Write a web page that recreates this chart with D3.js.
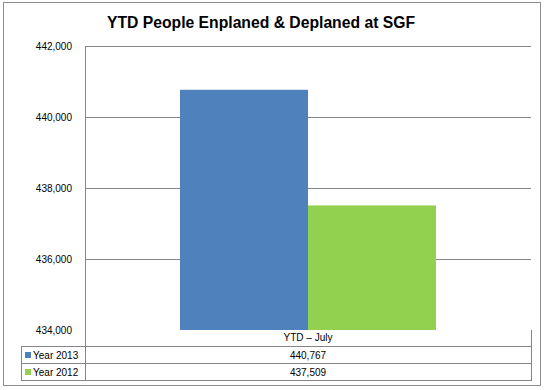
<!DOCTYPE html>
<head>
<meta charset="utf-8">
<title>YTD People Enplaned & Deplaned at SGF</title>
<style>
body { margin: 0; background: #fff; font-family: "Liberation Sans", Arial, sans-serif; }
.axis text { font-size: 10px; fill: #000; }
.tbl text { font-size: 10px; fill: #000; }
</style>
<script src="https://d3js.org/d3.v7.min.js"></script>
</head>
<body>
<script>
// data
var categories = ["YTD \u2013 July"];
var seriesNames = ["Year 2013", "Year 2012"];
var seriesValues = [440767, 437509];
var seriesColors = ["#4F81BD", "#92D050"];
var yTicks = [434000, 436000, 438000, 440000, 442000];

var width = 548, height = 390;
var plot = { left: 85, right: 531, top: 46, bottom: 330 };
var rowH = 17;

var svg = d3.select("body").append("svg")
    .attr("width", width)
    .attr("height", height);

// outer chart border
svg.append("rect")
    .attr("x", 3.5).attr("y", 2.5)
    .attr("width", 537).attr("height", 383)
    .attr("fill", "#fff")
    .attr("stroke", "#8c8c8c");

// title
svg.append("text")
    .attr("x", 261).attr("y", 28)
    .attr("text-anchor", "middle")
    .style("font-size", "16px")
    .style("font-weight", "bold")
    .attr("textLength", 308)
    .attr("lengthAdjust", "spacingAndGlyphs")
    .text("YTD People Enplaned & Deplaned at SGF");

// scales
var yScale = d3.scaleLinear()
    .domain([434000, 442000])
    .range([plot.bottom, plot.top]);

var xScale = d3.scaleBand()
    .domain(categories)
    .range([plot.left, plot.right])
    .paddingInner(0)
    .paddingOuter(0.371);

var xSeries = d3.scaleBand()
    .domain(seriesNames)
    .range([0, xScale.bandwidth()]);

// gridlines (no line at the baseline)
svg.append("g")
    .selectAll("line")
    .data(yTicks.filter(function(d) { return d > 434000; }))
    .enter().append("line")
    .attr("x1", plot.left).attr("x2", plot.right)
    .attr("y1", function(d) { return Math.round(yScale(d)) + 0.5; })
    .attr("y2", function(d) { return Math.round(yScale(d)) + 0.5; })
    .attr("stroke", "#868686");

// y axis labels
var yAxis = d3.axisLeft(yScale)
    .tickValues(yTicks)
    .tickSize(0)
    .tickPadding(13)
    .tickFormat(d3.format(","));

svg.append("g")
    .attr("class", "axis")
    .attr("transform", "translate(" + plot.left + ",0)")
    .call(yAxis)
    .call(function(g) { g.select(".domain").remove(); });

// bars
svg.append("g")
    .selectAll("rect")
    .data(seriesValues)
    .enter().append("rect")
    .attr("x", function(d, i) { return xScale(categories[0]) + xSeries(seriesNames[i]); })
    .attr("width", xSeries.bandwidth())
    .attr("y", function(d) { return yScale(d); })
    .attr("height", function(d) { return yScale(434000) - yScale(d); })
    .attr("fill", function(d, i) { return seriesColors[i]; });

// vertical axis line (runs down through the data table)
var tblTop = plot.bottom + rowH - 1;
var tblBottom = tblTop + rowH * seriesNames.length;
svg.append("line")
    .attr("x1", plot.left + 0.5).attr("x2", plot.left + 0.5)
    .attr("y1", plot.top).attr("y2", tblBottom)
    .attr("stroke", "#868686");

// data table
var tbl = svg.append("g").attr("class", "tbl");

tbl.append("line")
    .attr("x1", plot.right + 0.5).attr("x2", plot.right + 0.5)
    .attr("y1", plot.bottom).attr("y2", tblBottom)
    .attr("stroke", "#868686");
tbl.append("line")
    .attr("x1", 21.5).attr("x2", 21.5)
    .attr("y1", tblTop).attr("y2", tblBottom)
    .attr("stroke", "#868686");

tbl.selectAll(".hline")
    .data(d3.range(seriesNames.length + 1))
    .enter().append("line")
    .attr("class", "hline")
    .attr("x1", 21).attr("x2", plot.right + 1)
    .attr("y1", function(i) { return tblTop + i * rowH + 0.5; })
    .attr("y2", function(i) { return tblTop + i * rowH + 0.5; })
    .attr("stroke", "#868686");

// category label
tbl.append("text")
    .attr("x", xScale(categories[0]) + xScale.bandwidth() / 2)
    .attr("y", plot.bottom + 11)
    .attr("text-anchor", "middle")
    .text(categories[0]);

// rows
var rows = tbl.selectAll(".row")
    .data(seriesNames)
    .enter().append("g")
    .attr("class", "row")
    .attr("transform", function(d, i) { return "translate(0," + (tblTop + i * rowH) + ")"; });

rows.append("rect")
    .attr("x", 25).attr("y", 6)
    .attr("width", 6).attr("height", 6)
    .attr("fill", function(d, i) { return seriesColors[i]; });

rows.append("text")
    .attr("x", 33).attr("y", 12.5)
    .text(function(d) { return d; });

rows.append("text")
    .attr("x", xScale(categories[0]) + xScale.bandwidth() / 2)
    .attr("y", 12.5)
    .attr("text-anchor", "middle")
    .text(function(d, i) { return d3.format(",")(seriesValues[i]); });
</script>
</body>
